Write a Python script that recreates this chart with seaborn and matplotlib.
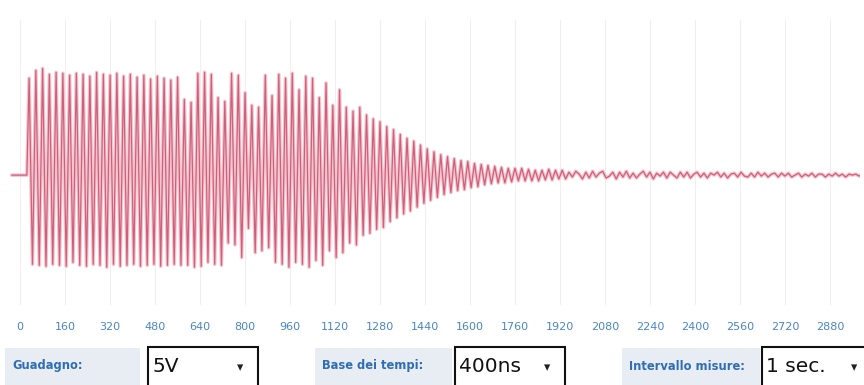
"""Traccia oscilloscopio: oscillazione smorzata con controlli in basso."""

import numpy as np
import pandas as pd
import matplotlib.pyplot as plt
import seaborn as sns
from matplotlib.patches import Rectangle

# --- dati ---------------------------------------------------------------
SAMPLE_STEP = 12          # unita di tempo tra due campioni
SAMPLE_START = 32

PRE_TRIGGER_T = [-30, 24]
PRE_TRIGGER_V = [0.0, 0.0]

ZONE_FULL = [
    1.00, -0.92, 1.08, -0.93, 1.10, -0.94, 1.04, -0.92, 1.06, -0.93,
    1.05, -0.94, 1.03, -0.90, 1.05, -0.93, 1.04, -0.94, 1.02, -0.92,
    1.06, -0.93, 1.04, -0.95, 1.03, -0.92, 1.05, -0.94, 1.02, -0.93,
    1.04, -0.92, 1.01, -0.94, 1.03, -0.93, 0.99, -0.92, 1.02, -0.94,
    1.00, -0.93, 0.98, -0.92, 1.01, -0.93,
]
ZONE_IRREGULAR = [
    0.78, -0.93, 0.75, -0.95, 1.05, -0.94, 1.06, -0.90, 1.04, -0.92,
    0.80, -0.93, 0.76, -0.70, 1.05, -0.72, 1.03, -0.85, 0.85, -0.55,
    0.72, -0.80, 0.70, -0.78, 1.03, -0.75, 0.82, -0.90, 1.04, -0.92,
    1.00, -0.95, 1.05, -0.90, 0.88,
]
ZONE_FADE = [
    -0.92, 1.02, -0.95, 1.00, -0.88, 0.80, -0.93, 0.95, -0.78, 0.72,
    -0.85, 0.88, -0.80, 0.70, -0.70, 0.66, -0.72, 0.70, -0.62, 0.62,
    -0.60, 0.58, -0.56, 0.55,
]
ZONE_DECAY = [
    -0.54, 0.50, -0.48, 0.47, -0.44, 0.42, -0.40, 0.38, -0.37, 0.35,
    -0.33, 0.31, -0.29, 0.27, -0.26, 0.24, -0.23, 0.21, -0.20, 0.19,
    -0.18, 0.17, -0.16, 0.15, -0.15, 0.14, -0.13,
]
ZONE_TAIL = [
    0.12, -0.12, 0.11, -0.10, 0.10, -0.09, 0.09, -0.08, 0.08, -0.08,
    0.07, -0.07, 0.07, -0.06, 0.07, -0.06, 0.06, -0.06, 0.05, -0.06,
    0.05, -0.05, 0.06, -0.05, 0.05, -0.04, 0.05,
]
ZONE_NOISE = [
    -0.04, 0.03, -0.02, 0.04, 0.01, -0.04, 0.03, -0.03, 0.04, -0.02,
    0.02, 0.04, -0.03, -0.01, 0.03, -0.04, 0.03, -0.02, 0.04, -0.03,
    0.02, -0.03, 0.01, 0.04, -0.02, 0.03, -0.04, 0.02, -0.01, 0.03,
    -0.03, 0.03, 0.00, -0.03, 0.03, -0.02, 0.03, -0.03, 0.01, 0.03,
    -0.02, 0.02, -0.03, 0.02, 0.00, 0.03, -0.02, 0.02, -0.03, 0.01,
    0.02, -0.02, 0.03, -0.01, -0.02, 0.02, -0.02, 0.03, -0.01, 0.02,
    -0.02, 0.01, 0.02, -0.02, 0.02, -0.01, 0.02, -0.02, 0.00, 0.02,
    -0.02, 0.01, -0.01, 0.02, -0.02, 0.01, 0.01, -0.02, 0.01, -0.01,
    0.02, -0.01, 0.01, -0.02, 0.01, 0.00, 0.01, -0.01, 0.01,
]

TICK_VALUES = [0, 160, 320, 480, 640, 800, 960, 1120, 1280, 1440, 1600,
               1760, 1920, 2080, 2240, 2400, 2560, 2720, 2880]

CONTROL_LABELS = ["Guadagno:", "Base dei tempi:", "Intervallo misure:"]
CONTROL_VALUES = ["5V", "400ns", "1 sec."]

TRACE_COLOR = "#cf6079"
TRACE_GLOW = "#f5c4cf"
TICK_COLOR = "#4a86c5"
LABEL_COLOR = "#2f6db5"
LABEL_BG = "#e8edf4"

W, H = 864, 385


def fx(px):
    return px / W


def fy(py):
    return 1 - py / H


sns.set_theme(style="white")
plt.rcParams["font.family"] = ["DejaVu Sans"]

samples = ZONE_FULL + ZONE_IRREGULAR + ZONE_FADE + ZONE_DECAY + ZONE_TAIL + ZONE_NOISE
t_samples = SAMPLE_START + SAMPLE_STEP * np.arange(len(samples))
trace = pd.DataFrame({
    "t": np.concatenate([PRE_TRIGGER_T, t_samples]),
    "v": np.concatenate([PRE_TRIGGER_V, samples]),
})

fig = plt.figure(figsize=(W / 100, H / 100), dpi=100)
ax = fig.add_axes([fx(10), fy(305), fx(850), (305 - 20) / H])

# alone rosa chiaro sotto la traccia (effetto fosforo della schermata)
sns.lineplot(data=trace, x="t", y="v", sort=False, estimator=None,
             color=TRACE_GLOW, linewidth=2.6, ax=ax)
sns.lineplot(data=trace, x="t", y="v", sort=False, estimator=None,
             color=TRACE_COLOR, linewidth=0.9, ax=ax)

ax.set_xlim(-36, 2987)
ax.set_ylim(-1.34, 1.60)
ax.set_xticks(TICK_VALUES)
ax.set_xticklabels([str(v) for v in TICK_VALUES], color=TICK_COLOR, fontsize=8)
ax.tick_params(axis="x", length=0, pad=12)
ax.set_yticks([])
ax.set_xlabel("")
ax.set_ylabel("")
ax.grid(axis="x", color="#efefef", linewidth=0.8)
for spine in ax.spines.values():
    spine.set_visible(False)

# --- barra dei controlli -----------------------------------------------
label_boxes = [(5, 140), (315, 452), (622, 760)]
value_boxes = [(148, 258), (455, 565), (762, 872)]

for (lx0, lx1), (vx0, vx1), label, value in zip(
        label_boxes, value_boxes, CONTROL_LABELS, CONTROL_VALUES):
    fig.patches.append(Rectangle((fx(lx0), fy(387)), fx(lx1 - lx0), (387 - 348) / H,
                                 transform=fig.transFigure, facecolor=LABEL_BG,
                                 edgecolor="none"))
    fig.text(fx(lx0 + 7), fy(366), label, color=LABEL_COLOR, fontsize=8.3,
             fontweight="bold", ha="left", va="center")
    fig.patches.append(Rectangle((fx(vx0), fy(390)), fx(vx1 - vx0), (390 - 347) / H,
                                 transform=fig.transFigure, facecolor="white",
                                 edgecolor="#111111", linewidth=1.5))
    fig.text(fx(vx0 + 4), fy(367), value, color="#111111", fontsize=14.5,
             ha="left", va="center")
    fig.text(fx(vx1 - 18), fy(368), "▾", color="#222222", fontsize=9,
             ha="center", va="center")

fig.savefig("out.png", dpi=100)
